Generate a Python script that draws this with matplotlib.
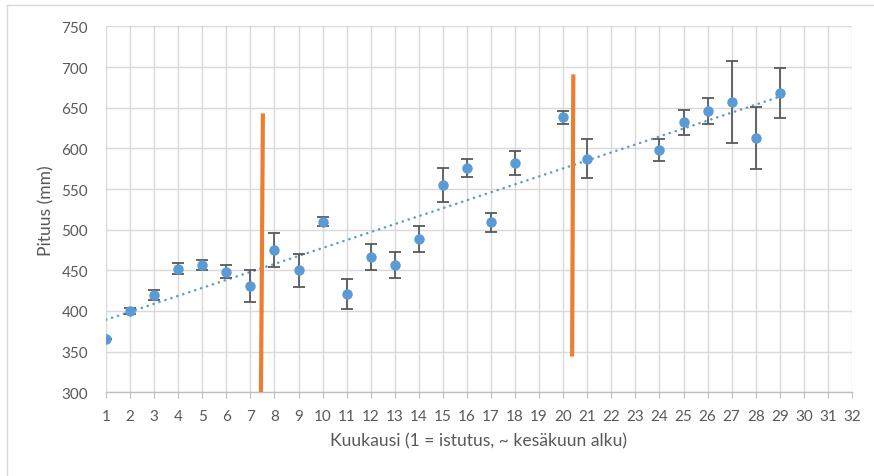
import numpy as np
import matplotlib
matplotlib.use("Agg")
import matplotlib.pyplot as plt
from matplotlib.lines import Line2D

# monthly mean height and its error
months = [1, 2, 3, 4, 5, 6, 7, 8, 9, 10, 11, 12, 13, 14, 15, 16, 17, 18, 20, 21, 24, 25, 26, 27, 28, 29]
height = [366, 400, 420, 452, 457, 448, 431, 475, 450, 510, 421, 466, 456, 488, 555, 576, 509, 582,
          638, 587, 598, 632, 646, 657, 613, 668]
error = [0, 4, 6, 7, 6, 8, 20, 21, 20, 5, 18, 16, 16, 16, 21, 11, 12, 15,
         8, 24, 13, 15, 16, 50, 38, 31]

# the two orange markers (x at bottom, x at top, y range)
mark1_x = [7.44, 7.52]
mark1_y = [300, 643]
mark2_x = [20.37, 20.42]
mark2_y = [344, 691]

xticks = list(range(1, 33))
yticks = list(range(300, 751, 50))

plt.rcParams['font.family'] = ['Lato', 'DejaVu Sans']
text_color = "#595959"
grid_color = "#d9d9d9"

fig = plt.figure(figsize=(8.74, 4.77), dpi=100)
ax = fig.add_axes([0.1213, 0.1755, 0.8535, 0.767])

# light outer frame of the chart
fig.add_artist(Line2D([7 / 874, 7 / 874], [0, 1 - 6 / 477], transform=fig.transFigure, color=grid_color, lw=1))
fig.add_artist(Line2D([7 / 874, 1], [1 - 6 / 477, 1 - 6 / 477], transform=fig.transFigure, color=grid_color, lw=1))

ax.set_xlim(1, 32)
ax.set_ylim(300, 750)
ax.set_xticks(xticks)
ax.set_yticks(yticks)
ax.grid(True, color=grid_color, lw=1.0)
ax.set_axisbelow(True)
for s in ["top", "right", "left"]:
    ax.spines[s].set_visible(False)
ax.spines["bottom"].set_color("#bfbfbf")
ax.spines["bottom"].set_linewidth(1.0)
ax.tick_params(axis="x", length=4, color="#bfbfbf", labelsize=11, labelcolor=text_color, pad=8)
ax.tick_params(axis="y", length=0, labelsize=11, labelcolor=text_color, pad=13)

# linear trend
k, b = np.polyfit(months, height, 1)
tx = np.array([months[0], months[-1]])
ax.plot(tx, k * tx + b, color="#5b9bd5", lw=1.8, linestyle=(0, (0.1, 2.4)), dash_capstyle="round", zorder=2)

ax.errorbar(months, height, yerr=error, fmt="o", color="#5b9bd5", ms=6.5,
            ecolor="#595959", elinewidth=1.3, capsize=4, capthick=1.3, zorder=3)

ax.plot(mark1_x, mark1_y, color="#ed7d31", lw=3, solid_capstyle="butt", zorder=4)
ax.plot(mark2_x, mark2_y, color="#ed7d31", lw=3, solid_capstyle="butt", zorder=4)

ax.set_xlabel("Kuukausi (1 = istutus, ~ kesäkuun alku)", fontsize=12.6, color=text_color, labelpad=7)
ax.set_ylabel("Pituus (mm)", fontsize=12.6, color=text_color, labelpad=5)

fig.savefig("out.png", dpi=100)
